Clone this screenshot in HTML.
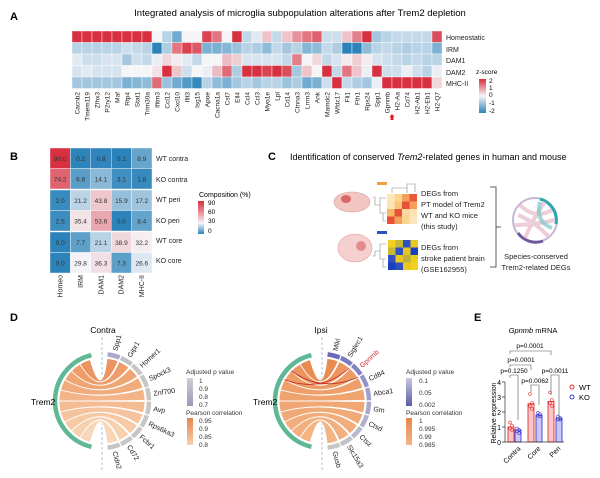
<!DOCTYPE html>
<html><head><meta charset="utf-8">
<style>
html,body{margin:0;padding:0;background:#fff;}
svg{display:block;font-family:"Liberation Sans",Arial,sans-serif;}
</style></head>
<body>
<svg id="s" width="600" height="478" viewBox="0 0 600 478" xmlns="http://www.w3.org/2000/svg">
<defs>
<linearGradient id="zg" x1="0" y1="0" x2="0" y2="1">
<stop offset="0" stop-color="#d7303f"/><stop offset="0.5" stop-color="#f5f5f8"/><stop offset="1" stop-color="#2b83ba"/></linearGradient>
<linearGradient id="cg" x1="0" y1="0" x2="0" y2="1">
<stop offset="0" stop-color="#d7303f"/><stop offset="0.33" stop-color="#e98a93"/><stop offset="0.67" stop-color="#f5f5f8"/><stop offset="1" stop-color="#2b83ba"/></linearGradient>
<linearGradient id="gg" x1="0" y1="0" x2="0" y2="1"><stop offset="0" stop-color="#cfcfd6"/><stop offset="1" stop-color="#9a9ab8"/></linearGradient>
<linearGradient id="pg" x1="0" y1="0" x2="0" y2="1"><stop offset="0" stop-color="#c8c8e0"/><stop offset="1" stop-color="#5a5aaa"/></linearGradient>
<linearGradient id="og" x1="0" y1="0" x2="0" y2="1"><stop offset="0" stop-color="#e8864a"/><stop offset="1" stop-color="#f8cfae"/></linearGradient>
<linearGradient id="og2" x1="0" y1="0" x2="0" y2="1"><stop offset="0" stop-color="#e8864a"/><stop offset="1" stop-color="#f3b48a"/></linearGradient>
</defs>
<g font-size="11" font-weight="bold">
<text x="10" y="20">A</text><text x="10" y="160">B</text><text x="268" y="160">C</text><text x="10" y="321">D</text><text x="474" y="321">E</text></g>
<text x="300" y="16" font-size="9.5" text-anchor="middle">Integrated analysis of microglia subpopulation alterations after Trem2 depletion</text>
<g id="A"></g>
<g font-size="7" fill="#222">
<text x="446" y="40">Homeostatic</text><text x="446" y="52">IRM</text><text x="446" y="63">DAM1</text><text x="446" y="75">DAM2</text><text x="446" y="86">MHC-II</text></g>
<text x="476" y="74" font-size="6.5">z-score</text>
<rect x="479" y="79" width="7" height="34" fill="url(#zg)"/>
<g font-size="6.5"><text x="489" y="83">2</text><text x="489" y="90">1</text><text x="489" y="97">0</text><text x="489" y="105">-1</text><text x="489" y="113">-2</text></g>
<path d="M389.5 117 l2.5 -3 l2.5 3 l-1 0 l0 3 l-3 0 l0 -3z" fill="#e02020"/>
<g id="B"></g>
<g font-size="7" fill="#222">
<text x="156" y="161">WT contra</text><text x="156" y="182">KO contra</text><text x="156" y="202">WT peri</text><text x="156" y="223">KO peri</text><text x="156" y="243">WT core</text><text x="156" y="263">KO core</text></g>
<text x="199" y="197" font-size="7">Composition (%)</text>
<rect x="198" y="201" width="6" height="33" fill="url(#cg)"/>
<g font-size="6.5"><text x="208" y="205">90</text><text x="208" y="214">60</text><text x="208" y="223">30</text><text x="208" y="233">0</text></g>
<text x="290" y="160" font-size="9">Identification of conserved <tspan font-style="italic">Trem2</tspan>-related genes in human and mouse</text>
<ellipse cx="352" cy="202" rx="18" ry="10" fill="#f2c6c3" stroke="#d8a09c" stroke-width="0.6"/>
<ellipse cx="346" cy="199" rx="5" ry="4" fill="#d9676a"/>
<ellipse cx="355" cy="248" rx="17" ry="14" fill="#f6d0cf" stroke="#d9a09f" stroke-width="0.6"/>
<circle cx="361" cy="246" r="5" fill="#e07a7c" opacity="0.8"/>
<g id="C"></g>
<rect x="377" y="182" width="10" height="3" fill="#f0a040"/>
<rect x="377" y="231" width="10" height="3" fill="#3050c0"/>
<g font-size="7.5" fill="#222">
<text x="421" y="196">DEGs from</text><text x="421" y="207">PT model of Trem2</text><text x="421" y="218">WT and KO mice</text><text x="421" y="229"> (this study)</text>
<text x="421" y="250">DEGs from</text><text x="421" y="261">stroke patient brain</text><text x="421" y="272">(GSE162955)</text>
<text x="536" y="259" text-anchor="middle">Species-conserved</text><text x="536" y="270" text-anchor="middle">Trem2-related DEGs</text></g>
<path d="M490 187 h6 v80 h-6 M496 227 h5" fill="none" stroke="#333" stroke-width="0.8"/>
<circle cx="535" cy="220" r="22" fill="none" stroke="#c8b8d8" stroke-width="2"/>
<path d="M540 199 A22 22 0 0 1 556 224" fill="none" stroke="#2aa8b0" stroke-width="3"/>
<path d="M518 233 A22 22 0 0 0 543 241" fill="none" stroke="#6a5a9a" stroke-width="3"/>
<path d="M520 205 Q535 220 552 210 M518 215 Q535 222 548 236 M525 238 Q535 215 545 202 M515 225 Q535 225 555 220" fill="none" stroke="#e6b8c8" stroke-width="4" opacity="0.7"/>
<path d="M540 202 Q535 222 552 228" fill="none" stroke="#7cc8cc" stroke-width="4" opacity="0.7"/>
<g id="D"></g>
<text x="103" y="333" font-size="8.5" text-anchor="middle">Contra</text>
<text x="321" y="333" font-size="8.5" text-anchor="middle">Ipsi</text>
<text x="31" y="405" font-size="8.5">Trem2</text>
<text x="253" y="405" font-size="8.5">Trem2</text>
<g font-size="6.5" fill="#333">
<text x="186" y="374">Adjusted p value</text>
<rect x="187" y="378" width="6" height="28" fill="url(#gg)"/>
<text x="199" y="383">1</text><text x="199" y="391">0.9</text><text x="199" y="399">0.8</text><text x="199" y="407">0.7</text>
<text x="186" y="415">Pearson correlation</text>
<rect x="187" y="418" width="6" height="27" fill="url(#og)"/>
<text x="199" y="423">0.95</text><text x="199" y="431">0.9</text><text x="199" y="439">0.85</text><text x="199" y="447">0.8</text>
<text x="406" y="374">Adjusted p value</text>
<rect x="406" y="378" width="6" height="28" fill="url(#pg)"/>
<text x="419" y="383">0.1</text><text x="419" y="395">0.05</text><text x="419" y="407">0.002</text>
<text x="406" y="415">Pearson correlation</text>
<rect x="406" y="418" width="6" height="27" fill="url(#og2)"/>
<text x="419" y="423">1</text><text x="419" y="431">0.995</text><text x="419" y="439">0.99</text><text x="419" y="447">0.985</text>
</g>
<text x="533" y="333" font-size="7.5" text-anchor="middle"><tspan font-style="italic">Gpnmb</tspan> mRNA</text>
<g id="E"></g>
<g stroke="#333" stroke-width="0.7" fill="none">
<path d="M505 382 V442 H564"/>
<path d="M502 382h3M502 397h3M502 412h3M502 427h3M502 442h3"/>
</g>
<g font-size="7" text-anchor="end"><text x="501" y="385">4</text><text x="501" y="400">3</text><text x="501" y="415">2</text><text x="501" y="430">1</text><text x="501" y="445">0</text></g>
<text transform="translate(496 413) rotate(-90)" font-size="7" text-anchor="middle">Relative expression</text>
<g font-size="7" text-anchor="end">
<text transform="translate(521 449) rotate(-45)">Contra</text>
<text transform="translate(541 449) rotate(-45)">Core</text>
<text transform="translate(561 449) rotate(-45)">Peri</text></g>
<g font-size="6.5" text-anchor="middle">
<text x="530" y="348">p=0.0001</text>
<text x="521" y="362">p=0.0001</text>
<text x="514" y="373">p=0.1250</text>
<text x="535" y="383">p=0.0062</text>
<text x="555" y="373">p=0.0011</text></g>
<g stroke="#555" stroke-width="0.6" fill="none">
<path d="M510 354 V351 H551 V355"/>
<path d="M510 367 V365 H531 V370"/>
<path d="M510 378 V375 H518 V420"/>
<path d="M531 392 V385 H539 V405"/>
<path d="M551 395 V375 H559 V420"/>
</g>
<circle cx="572" cy="387" r="2" fill="none" stroke="#e83030"/>
<text x="579" y="390" font-size="7.5">WT</text>
<circle cx="572" cy="397" r="2" fill="none" stroke="#3b3bdc"/>
<text x="579" y="400" font-size="7.5">KO</text>
</svg>
<script>
var NS="http://www.w3.org/2000/svg";
function el(p,t,a,txt){var e=document.createElementNS(NS,t);for(var k in a)e.setAttribute(k,a[k]);if(txt!=null)e.textContent=txt;p.appendChild(e);return e;}
function lerp(a,b,t){return [0,1,2].map(function(i){return Math.round(a[i]+(b[i]-a[i])*t);});}
var RED=[215,48,64],WH=[245,245,248],BL=[43,131,186];
function zc(v){v=Math.max(-2,Math.min(2,v));var c=v>=0?lerp(WH,RED,v/2):lerp(WH,BL,-v/2);return "rgb("+c+")";}
var genes="Cacnb2 Tmem119 Zfhx3 P2ry12 Maf Rtp4 Stat1 Trim30a Ifitm3 Ccl12 Cxcl10 Ifit3 Isg15 Apoe Cacna1a Cst7 Ell4 Ccl4 Ccl3 Myo1e Lpl Cd14 Ctnna3 Lrrm3 Ank Mamdc2 Wfdc17 Fli1 Fth1 Rps24 Spp1 Gpnmb H2-Aa Cd74 H2-Ab1 H2-Eb1 H2-Q7".split(" ");
var Z=[
[2,2,2,2,2,2,2,2,0,-0.6,-1.3,0,0,1.8,1.3,0,2,-0.5,-0.2,0.5,-0.5,0.5,1,1.3,1.5,-0.4,-0.4,0.5,1.2,2,-0.8,-0.6,-0.5,-0.5,-0.5,-0.5,1.7],
[-0.6,-0.6,-0.6,-0.6,-0.6,-0.4,-0.5,-0.6,-2,-0.7,1.3,1.8,1.6,-1.2,-1.2,-1.1,-0.9,-0.6,-0.7,-1,-0.5,-0.8,-0.6,-1.1,-1,-0.5,-0.7,-2,-2,-1,-0.6,-0.5,-0.6,-0.7,-0.6,-0.6,-1.2],
[-0.2,-0.4,-0.4,-0.3,-0.3,-0.8,-0.4,-0.5,-0.1,0.3,0.1,-0.2,-0.5,0,0,0.6,0.4,-0.3,-0.3,-0.3,-0.3,-0.5,1.2,0,0.3,-0.5,-0.3,0.1,0.4,0.1,-0.3,-0.4,-0.5,-0.6,-0.5,-0.6,-0.6],
[-0.3,-0.2,-0.3,-0.3,-0.3,0,0,0,0.2,2,0.5,-0.4,0,-0.1,0.6,1.4,-0.7,2,2,1.8,2,1.7,-0.8,0.5,0,2,-0.5,1.3,0.5,-0.1,2,-0.4,-0.4,-0.1,-0.4,-0.6,-0.1],
[-0.8,-0.8,-0.8,-0.8,-0.8,-1.2,-1.1,-1,1.4,-0.9,-1.3,-1.6,-1.9,-0.6,-1,-1.2,-0.8,-0.6,-0.8,-0.6,-0.6,-0.9,-0.7,-1.3,-1.2,-0.4,2,-0.5,-0.7,-0.8,-0.1,2,2,2,2,2,0.3]];
var A=document.getElementById("A"),x0=72,y0=31,cw=370/37,ch=11.5;
for(var r=0;r<5;r++)for(var c=0;c<37;c++)el(A,"rect",{x:x0+c*cw,y:y0+r*ch,width:cw,height:ch,fill:zc(Z[r][c]),stroke:"#fff","stroke-width":0.4});
for(var c=0;c<37;c++)el(A,"text",{transform:"translate("+(x0+c*cw+cw/2+2.3)+" 92) rotate(-90)","font-size":6.5,"text-anchor":"end",fill:"#222"},genes[c]);
function cc(v){var c;if(v<=30)c=lerp(BL,WH,v/30);else c=lerp(WH,RED,(v-30)/60);return "rgb("+c+")";}
var BV=[[90,0.2,0.8,0.1,8.9],[74.2,6.8,14.1,3.1,1.8],[2,21.2,43.8,15.9,17.2],[2.5,35.4,53.6,0,8.4],[0,7.7,21.1,38.9,32.2],[0,29.8,36.3,7.3,26.6]];
var B=document.getElementById("B");
for(var r=0;r<6;r++)for(var c=0;c<5;c++){var x=50+c*20.4,y=148+r*20.5+(r>=2?1:0)+(r>=4?1:0);
el(B,"rect",{x:x,y:y,width:20.4,height:20.5,fill:cc(BV[r][c]),stroke:"#fff","stroke-width":0.4});
el(B,"text",{x:x+10.2,y:y+13,"font-size":6.5,"text-anchor":"middle",fill:"#333"},BV[r][c].toFixed(1));}
["Homeo","IRM","DAM1","DAM2","MHC-II"].forEach(function(t,i){el(B,"text",{transform:"translate("+(50+i*20.4+12.5)+" 275) rotate(-90)","font-size":7,"text-anchor":"end",fill:"#222"},t);});
var C=document.getElementById("C");
var hm1=["#fde6b8","#fbd48f","#f5a05a","#e85a3a","#fce3b0","#f9c77a","#e8503a","#f5a05a","#f8b868","#e8503a","#fad7a0","#fce3b0","#e8503a","#f5a05a","#fbd48f","#fce6c0"];
var hm2=["#f0d020","#c8b838","#3050c0","#e8c820","#c8b838","#3050c0","#e8c820","#1840c0","#3050c0","#e8c820","#c0b040","#e8d020","#1840c0","#3050c0","#e8c820","#f0d020"];
for(var i=0;i<16;i++){var r=Math.floor(i/4),c=i%4;
el(C,"rect",{x:387+c*7.5,y:194+r*7.5,width:7.5,height:7.5,fill:hm1[i]});
el(C,"rect",{x:388+c*7.5,y:240+r*7.5,width:7.5,height:7.5,fill:hm2[i]});}
el(C,"path",{d:"M386 198 h-6 v15 h6 M386 213 h-3 v8 h3 M380 205 h-5 v-8 h-2 M386 244 h-6 v15 h6 M386 259 h-3 v8 h3 M380 251 h-5 v5 h-2 M392 193 v-5 h15 v5 M407 188 v-4 h8 v8",fill:"none",stroke:"#888","stroke-width":0.6});
var D=document.getElementById("D");
function pt(cx,cy,r,a){var t=(a-90)*Math.PI/180;return [cx+r*Math.cos(t),cy+r*Math.sin(t)];}
function chord(cx,cy,R,segCols,chCols,hl){
 el(D,"line",{x1:cx,y1:337,x2:cx,y2:470,stroke:"#7aa0c8","stroke-width":0.6,"stroke-dasharray":"3,2"});
 var n=10,s0=6,s1=174,gap=1.6,step=(s1-s0)/n;
 var g0=pt(cx,cy,R+4,193),g1=pt(cx,cy,R+4,347);
 var L0=196,L1=344,ls=(L1-L0)/n;
 for(var i=0;i<n;i++){
  var a0=s0+i*step+gap/2,a1=s0+(i+1)*step-gap/2;
  var b0=L1-i*ls,b1=L1-(i+1)*ls;
  var q0=pt(cx,cy,R,a0),q1=pt(cx,cy,R,a1),r0=pt(cx,cy,R,b1),r1=pt(cx,cy,R,b0);
  var d="M"+q0+" A"+R+" "+R+" 0 0 1 "+q1+" Q"+cx+" "+cy+" "+r0+" A"+R+" "+R+" 0 0 1 "+r1+" Q"+cx+" "+cy+" "+q0+"Z";
  el(D,"path",{d:d,fill:chCols[i],stroke:"#fff","stroke-width":0.8});
 }
 el(D,"path",{d:"M"+g0+" A"+(R+4)+" "+(R+4)+" 0 0 1 "+g1,fill:"none",stroke:"#5fb894","stroke-width":4.5});
 for(var i=0;i<n;i++){
  var a0=s0+i*step+gap/2,a1=s0+(i+1)*step-gap/2;
  var p0=pt(cx,cy,R+4,a0),p1=pt(cx,cy,R+4,a1);
  el(D,"path",{d:"M"+p0+" A"+(R+4)+" "+(R+4)+" 0 0 1 "+p1,fill:"none",stroke:segCols[i],"stroke-width":4.5});
 }
 if(hl){var q0=pt(cx,cy,R,s0+2*step),q1=pt(cx,cy,R,s0+3*step),r0=pt(cx,cy,R,L1-2*ls),r1=pt(cx,cy,R,L1-3*ls);
  el(D,"path",{d:"M"+q0+" Q"+cx+" "+(cy-8)+" "+r1+" M"+q1+" Q"+cx+" "+(cy-8)+" "+r0,fill:"none",stroke:"#c02020","stroke-width":0.8});}
}
function labels(cx,cy,R,names,cols){
 for(var i=0;i<names.length;i++){var a=6+(i+0.5)*16.8;var p=pt(cx,cy,R+9,a);
  el(D,"text",{transform:"translate("+p[0]+" "+p[1]+") rotate("+(a-90)+")","font-size":7,fill:cols?cols[i]:"#222",dy:"2.5"},names[i]);}
}
var gr=["#a8a8c8","#c0c0c8","#c6c6c6","#c6c6c6","#c6c6c6","#c6c6c6","#c6c6c6","#c6c6c6","#c6c6c6","#c6c6c6"];
var oc1=["#ec9460","#ee9d6a","#f0a574","#f1ac7e","#f2b488","#f4bc92","#f5c39d","#f6caa7","#f7d0b0","#f8d6b8"];
chord(102,401,43,gr,oc1,false);
labels(102,401,43,["Spp1","Gipr1","Homer1","Spock3","Znf700","Avp","Rps6ka3","Fcbr1","Cd72","Cldn2"]);
var pu=["#6a6ab8","#7a7ac0","#8484c4","#9494c8","#a0a0cc","#a8a8cc","#b0b0cc","#b8b8cc","#c0c0c8","#c6c6c6"];
var oc2=["#ea8c52","#ec955e","#ed9c66","#ee9f6a","#efa470","#f0a774","#f0aa78","#f1ad7c","#f2b080","#f3b484"];
chord(322,401,43,pu,oc2,true);
labels(322,401,43,["Mlkl","Siglec1","Gpnmb","Cd84","Abca1","Gm","Ctsd","Ctsz","Slc15a3","Gusb"],["#222","#222","#e03030","#222","#222","#222","#222","#222","#222","#222"]);
var E=document.getElementById("E");
var bars=[[508,1.0,"#e83030","#f8c8c8"],[515,0.8,"#3b3bdc","#c8c8f4"],[528,2.55,"#e83030","#f8c8c8"],[536,1.8,"#3b3bdc","#c8c8f4"],[548,2.7,"#e83030","#f8c8c8"],[556,1.6,"#3b3bdc","#c8c8f4"]];
var pts=[[1.3,1.1,0.9,0.8],[0.9,0.8,0.7,0.6],[3.2,2.6,2.4,2.2],[1.95,1.85,1.75,1.7],[3.3,2.8,2.6,2.4],[1.7,1.6,1.5,1.5]];
bars.forEach(function(b,i){var h=b[1]*15;el(E,"rect",{x:b[0],y:442-h,width:6,height:h,fill:b[3],stroke:b[2],"stroke-width":0.9});
pts[i].forEach(function(v,j){el(E,"circle",{cx:b[0]+2+(j%2)*2,cy:442-v*15,r:1.4,fill:"none",stroke:b[2],"stroke-width":0.6});});});
</script>
</body></html>
